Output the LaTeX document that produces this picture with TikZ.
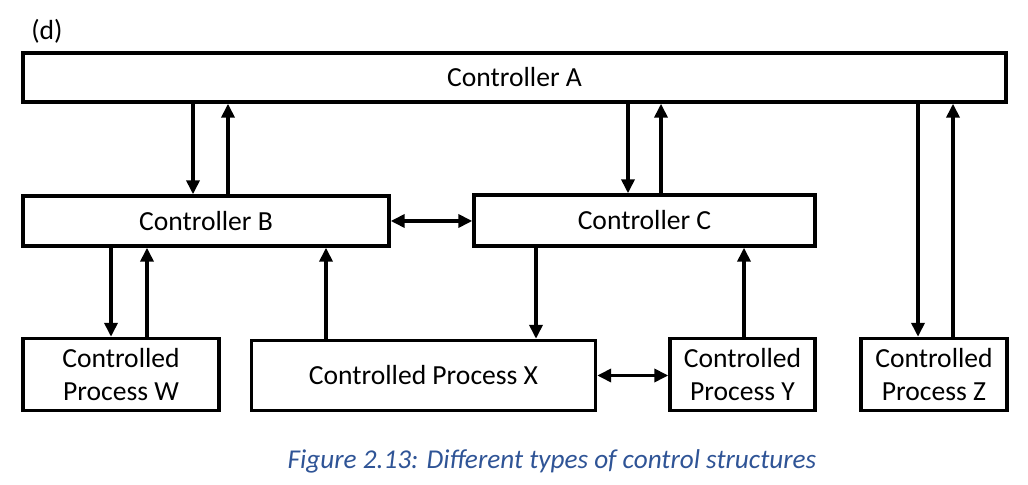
\documentclass[tikz,border=0pt]{standalone}
\usepackage{fontspec}
\setmainfont{Carlito}
\usetikzlibrary{arrows.meta}
\definecolor{capblue}{RGB}{47,84,150}
\begin{document}
\begin{tikzpicture}[x=0.5pt,y=-0.5pt,
  box/.style={draw=black,line width=1.7pt,fill=white,inner sep=0pt,align=center,
    font=\fontsize{13.8pt}{16.5pt}\selectfont},
  arr/.style={line width=1.8pt,-{Triangle[length=7pt,width=6.5pt]}},
  darr/.style={line width=1.8pt,{Triangle[length=7pt,width=6.5pt]}-{Triangle[length=7pt,width=6.5pt]}}]
\useasboundingbox (0,0) rectangle (1028,485);
\node[font=\fontsize{13.8pt}{16.5pt}\selectfont] (lbl) at (47,31) {(d)};
\node[box,minimum width=491.5pt,minimum height=24.5pt] (A) at (514.5,77.5) {Controller A};
\node[box,minimum width=183pt,minimum height=25pt] (B) at (206,221) {Controller B};
\node[box,minimum width=170.5pt,minimum height=25.5pt] (C) at (644.5,220.5) {Controller C};
\node[box,minimum width=98pt,minimum height=36pt] (W) at (121,374.5) {Controlled\\Process W};
\node[box,minimum width=172pt,minimum height=35pt] (X) at (423.5,375.5) {Controlled Process X};
\node[box,minimum width=72.5pt,minimum height=36pt] (Y) at (742.5,374.5) {Controlled\\Process Y};
\node[box,minimum width=73pt,minimum height=36pt] (Z) at (934,374.5) {Controlled\\Process Z};
\node[font=\fontsize{13.6pt}{16pt}\selectfont\itshape,text=capblue] (cap) at (552,461) {Figure 2.13: Different types of control structures};
% A <-> B
\draw[arr] (A.south -| 193,0) -- (B.north -| 193,0);
\draw[arr] (B.north -| 228,0) -- (A.south -| 228,0);
% A <-> C
\draw[arr] (A.south -| 628,0) -- (C.north -| 628,0);
\draw[arr] (C.north -| 661,0) -- (A.south -| 661,0);
% A <-> Z
\draw[arr] (A.south -| 918,0) -- (Z.north -| 918,0);
\draw[arr] (Z.north -| 953,0) -- (A.south -| 953,0);
% B <-> C
\draw[darr] (B.east) -- (C.west |- B.east);
% B <-> W
\draw[arr] (B.south -| 111,0) -- (W.north -| 111,0);
\draw[arr] (W.north -| 147,0) -- (B.south -| 147,0);
% X -> B
\draw[arr] (X.north -| 326,0) -- (B.south -| 326,0);
% C -> X
\draw[arr] (C.south -| 536,0) -- (X.north -| 536,0);
% Y -> C
\draw[arr] (Y.north -| 744,0) -- (C.south -| 744,0);
% X <-> Y
\draw[darr] (X.east) -- (Y.west |- X.east);
\end{tikzpicture}
\end{document}
